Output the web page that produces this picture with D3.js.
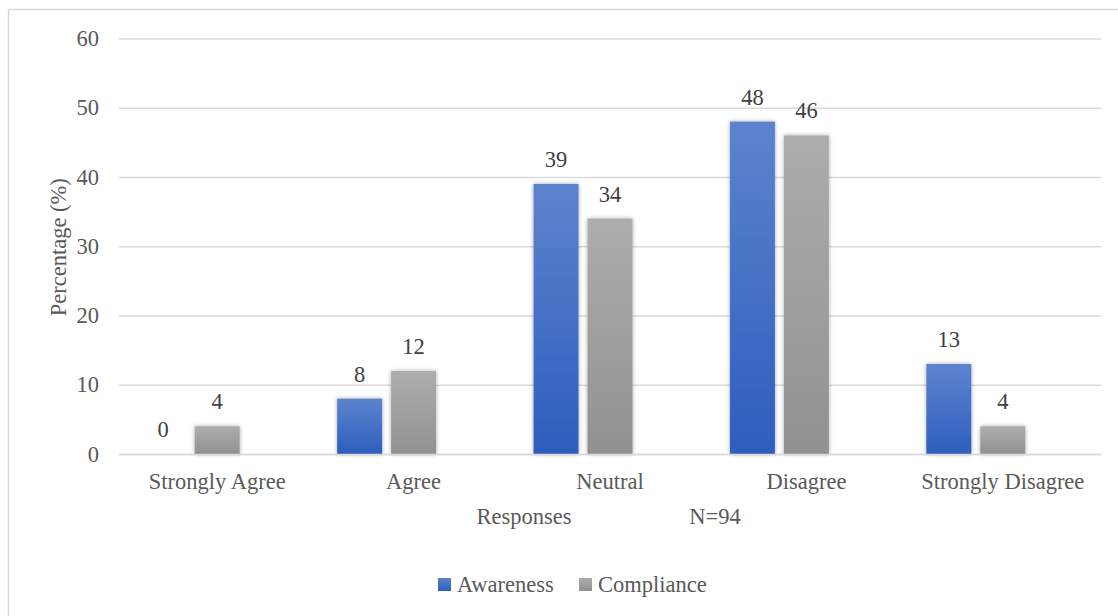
<!DOCTYPE html>
<html>
<head>
<meta charset="utf-8">
<script src="https://cdn.jsdelivr.net/npm/d3@7"></script>
<style>
  html, body { margin: 0; padding: 0; background: #fff; }
  svg { display: block; }
</style>
</head>
<body>
<svg id="chart" width="1118" height="616"></svg>
<script>
const categories = ["Strongly Agree", "Agree", "Neutral", "Disagree", "Strongly Disagree"];
const seriesNames = ["Awareness", "Compliance"];
const awareness = [0, 8, 39, 48, 13];
const compliance = [4, 12, 34, 46, 4];
const yTicks = [0, 10, 20, 30, 40, 50, 60];
const yTitle = "Percentage (%)";
const xTitle = "Responses";
const nNote = "N=94";

const FONT = '"Liberation Serif", "Times New Roman", "DejaVu Serif", serif';
const svg = d3.select("#chart").style("font-family", FONT);
const W = 1118, H = 616;
const plot = { left: 119, right: 1101, top: 38.5, bottom: 454 };
const FS = 22.5;

const defs = svg.append("defs");
function grad(id, top, bottom) {
  const g = defs.append("linearGradient").attr("id", id)
    .attr("x1", 0).attr("y1", 0).attr("x2", 0).attr("y2", 1);
  g.append("stop").attr("offset", "0%").attr("stop-color", top);
  g.append("stop").attr("offset", "100%").attr("stop-color", bottom);
}
grad("gA", "#5D83CE", "#2D5EBD");
grad("gC", "#ADADAD", "#919191");
const f = defs.append("filter").attr("id", "sh")
  .attr("x", "-30%").attr("y", "-30%").attr("width", "160%").attr("height", "160%");
f.append("feGaussianBlur").attr("in", "SourceAlpha").attr("stdDeviation", 2.2).attr("result", "b");
f.append("feComponentTransfer").attr("in", "b").attr("result", "o2")
  .append("feFuncA").attr("type", "linear").attr("slope", 0.35);
const m = f.append("feMerge");
m.append("feMergeNode").attr("in", "o2");
m.append("feMergeNode").attr("in", "SourceGraphic");

// frame
svg.append("rect").attr("x", 8.5).attr("y", 9.5).attr("width", W + 10).attr("height", H + 10)
  .attr("fill", "#fff").attr("stroke", "#d9d9d9").attr("stroke-width", 1.5);

const y = d3.scaleLinear().domain([0, 60]).range([plot.bottom, plot.top]);
const x0 = d3.scaleBand().domain(categories).range([plot.left, plot.right]).padding(0);
// third slot is an empty series in the original chart
const x1 = d3.scaleBand().domain([...seriesNames, "_"]).range([0, x0.bandwidth()])
  .paddingInner(9 / 54).paddingOuter(0.403);

// gridlines
const yAxis = d3.axisLeft(y).tickValues(yTicks).tickSize(-(plot.right - plot.left)).tickPadding(20);
const gy = svg.append("g").attr("transform", `translate(${plot.left},0)`).call(yAxis);
gy.attr("font-family", null);
gy.select(".domain").remove();
gy.selectAll(".tick line").attr("stroke", "#d9d9d9").attr("stroke-width", 1.5);
gy.selectAll(".tick text").attr("fill", "#595959").attr("font-size", FS);

const data = categories.map((c, i) => ({ cat: c, vals: [
  { key: "Awareness", v: awareness[i], fill: "url(#gA)" },
  { key: "Compliance", v: compliance[i], fill: "url(#gC)" }
]}));

const groups = svg.append("g").selectAll("g").data(data).join("g")
  .attr("transform", d => `translate(${x0(d.cat)},0)`);
groups.selectAll("rect").data(d => d.vals.filter(v => v.v > 0)).join("rect")
  .attr("x", d => x1(d.key)).attr("width", x1.bandwidth())
  .attr("y", d => y(d.v)).attr("height", d => y(0) - y(d.v))
  .attr("fill", d => d.fill).attr("filter", "url(#sh)");
groups.selectAll("text").data(d => d.vals).join("text")
  .attr("x", d => x1(d.key) + x1.bandwidth() / 2)
  .attr("y", d => y(d.v) - 17)
  .attr("text-anchor", "middle").attr("fill", "#404040").attr("font-size", FS)
  .text(d => d.v);

// x axis
const gx = svg.append("g").attr("transform", `translate(0,${plot.bottom})`)
  .call(d3.axisBottom(x0).tickSize(0).tickPadding(19.5));
gx.attr("font-family", null);
gx.select(".domain").attr("stroke", "#d9d9d9").attr("stroke-width", 1.5);
gx.selectAll(".tick text").attr("fill", "#595959").attr("font-size", FS);

// axis titles
svg.append("text").attr("transform", `translate(66,${(plot.top + plot.bottom) / 2 + 1}) rotate(-90)`)
  .attr("text-anchor", "middle").attr("fill", "#595959").attr("font-size", FS).text(yTitle);
svg.append("text").attr("x", 524).attr("y", 524).attr("text-anchor", "middle")
  .attr("fill", "#595959").attr("font-size", FS).text(xTitle);
svg.append("text").attr("x", 715).attr("y", 524).attr("text-anchor", "middle")
  .attr("fill", "#595959").attr("font-size", FS).text(nNote);

// legend
const leg = svg.append("g");
const legItems = [
  { name: seriesNames[0], fill: "url(#gA)", x: 438 },
  { name: seriesNames[1], fill: "url(#gC)", x: 579 }
];
legItems.forEach(d => {
  leg.append("rect").attr("x", d.x).attr("y", 578).attr("width", 13).attr("height", 13).attr("fill", d.fill);
  leg.append("text").attr("x", d.x + 19).attr("y", 592).attr("fill", "#595959")
    .attr("font-size", FS).text(d.name);
});
</script>
</body>
</html>
